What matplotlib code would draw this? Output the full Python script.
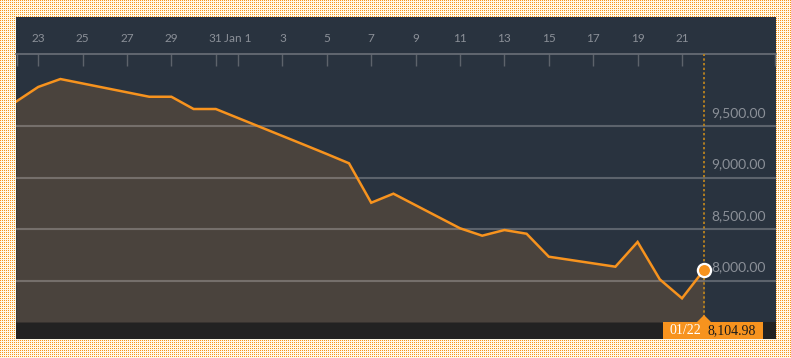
import numpy as np
import pandas as pd
import matplotlib
matplotlib.use("Agg")
import matplotlib.pyplot as plt
from matplotlib.patches import Rectangle, Polygon

# closing values, Dec 22 -> Jan 22
dates = ["2015-12-22", "2015-12-23", "2015-12-24", "2015-12-28", "2015-12-29",
         "2015-12-30", "2015-12-31", "2016-01-04", "2016-01-05", "2016-01-06",
         "2016-01-07", "2016-01-08", "2016-01-11", "2016-01-12", "2016-01-13",
         "2016-01-14", "2016-01-15", "2016-01-18", "2016-01-19", "2016-01-20",
         "2016-01-21", "2016-01-22"]
values = [9736, 9879, 9956, 9784, 9784,
          9665, 9665, 9316, 9228, 9138,
          8755, 8843, 8507, 8435, 8490,
          8454, 8231, 8134, 8374, 8011,
          7827, 8104.98]
tick_dates = ["2015-12-23", "2015-12-25", "2015-12-27", "2015-12-29", "2015-12-31",
              "2016-01-01", "2016-01-03", "2016-01-05", "2016-01-07", "2016-01-09",
              "2016-01-11", "2016-01-13", "2016-01-15", "2016-01-17", "2016-01-19",
              "2016-01-21"]
tick_labels = ["23", "25", "27", "29", "31", "Jan 1", "3", "5", "7", "9",
               "11", "13", "15", "17", "19", "21"]
y_grid = [8000, 8500, 9000, 9500]

start = pd.Timestamp("2015-12-22")
x = np.array([(pd.Timestamp(d) - start).days for d in dates], dtype=float)
xt = [(pd.Timestamp(d) - start).days for d in tick_dates]
y = np.array(values)

W, H = 791, 358
NAVY = "#29333f"
ORANGE = "#f7931e"
FILL = "#4a433d"
GRAY = "#8b9098"

fig = plt.figure(figsize=(W / 100, H / 100), dpi=100)

# dotted yellow backdrop
bg = np.ones((H, W, 3))
bg[:, :] = np.array([255, 250, 232]) / 255
bg[::2, ::2] = np.array([247, 148, 30]) / 255
fig.figimage(bg, 0, 0, zorder=0)

def fx(px):
    return px / W

def fy(py):
    return 1 - py / H

# navy panel and bottom strip
fig.patches.append(Rectangle((fx(16), fy(339)), fx(760), 322 / H, transform=fig.transFigure,
                             facecolor=NAVY, edgecolor="none", zorder=1))
fig.patches.append(Rectangle((fx(16), fy(339)), fx(760), 17 / H, transform=fig.transFigure,
                             facecolor="#222222", edgecolor="none", zorder=1))

ax = fig.add_axes([fx(16), fy(322), fx(760), 268 / H])
ax.set_facecolor("none")
ax.set_zorder(2)

px_per_day = 22.2
xmax = 760 / px_per_day
ax.set_xlim(0, xmax)
per_px = 500 / 51.5
ax.set_ylim(9500 - 196 * per_px, 9500 + 72 * per_px)

ax.fill_between(x, y, ax.get_ylim()[0], color=FILL, lw=0, zorder=1)
for v in y_grid:
    ax.axhline(v, color="white", alpha=0.24, lw=1.5, zorder=2)
    ax.text(0.987, v + 13 * per_px, f"{v:,.2f}", transform=ax.get_yaxis_transform(),
            ha="right", va="center", color=GRAY, fontsize=10, family="Lato", zorder=3)
ax.plot(x, y, color=ORANGE, lw=1.8, zorder=4, solid_joinstyle="miter")

# crosshair at the last point
ax.axvline(x[-1], color="#b07e22", lw=1.4, ls=(0, (1.2, 1.2)), zorder=3)
ax.plot(x[-1], y[-1], "o", ms=9.5, mfc=ORANGE, mec="white", mew=1.6, zorder=5)

# top date axis
ax.xaxis.tick_top()
ax.set_xticks([0.03] + xt + [xmax - 0.03], [""] + tick_labels + [""])
ax.tick_params(axis="x", direction="in", length=8.6, width=1, color="#5d636b",
               labelcolor=GRAY, labelsize=8.5, pad=7)
for lab in ax.get_xticklabels():
    lab.set_family("Lato")
ax.set_yticks([])
for s in ["left", "right", "bottom"]:
    ax.spines[s].set_visible(False)
ax.spines["top"].set_color("#6b7078")
ax.spines["top"].set_linewidth(1.2)

# value tag at the bottom
fig.patches.append(Rectangle((fx(663), fy(339)), fx(100), 17 / H, transform=fig.transFigure,
                             facecolor=ORANGE, edgecolor="none", zorder=3))
fig.patches.append(Polygon([(fx(697), fy(322)), (fx(704), fy(315)), (fx(711), fy(322))],
                           closed=True, transform=fig.transFigure,
                           facecolor=ORANGE, edgecolor="none", zorder=3))
label_date = pd.Timestamp(dates[-1]).strftime("%m/%d")
fig.text(fx(685), fy(331), label_date, color="white", ha="center", va="center",
         fontsize=10, family="Liberation Serif", zorder=4)
fig.text(fx(732), fy(331), f"{values[-1]:,.2f}", color="#1a1a1a", ha="center", va="center",
         fontsize=10, family="Liberation Serif", zorder=4)

fig.savefig("out.png", dpi=100)
